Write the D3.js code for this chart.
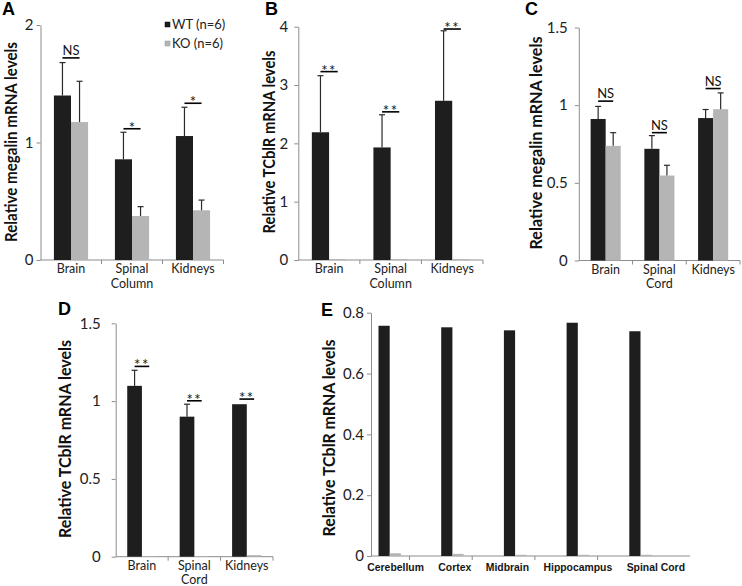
<!DOCTYPE html>
<html><head><meta charset="utf-8">
<script src="https://cdn.jsdelivr.net/npm/d3@7"></script>
<style>body{margin:0;background:#fff}</style>
</head><body>
<svg id="c" width="742" height="586"></svg>
<script>
// ---------- data ----------
const legendLabels = ["WT (n=6)", "KO (n=6)"];

const catsA = ["Brain", "Spinal Column", "Kidneys"];
const wtA = [1.40, 0.857, 1.055];
const wtSdA = [0.28, 0.23, 0.245];
const koA = [1.174, 0.374, 0.423];
const koSdA = [0.347, 0.08, 0.087];
const sigA = ["NS", "*", "*"];
const sigLevelA = [1.72, 1.117, 1.334];
const ticksA = [0, 1, 2];

const catsB = ["Brain", "Spinal Column", "Kidneys"];
const wtB = [2.19, 1.93, 2.73];
const wtSdB = [0.97, 0.56, 1.20];
const koB = [0.015, 0.015, 0.015];
const koSdB = [0, 0, 0];
const sigB = ["**", "**", "**"];
const sigLevelB = [3.23, 2.54, 3.96];
const ticksB = [0, 1, 2, 3, 4];

const catsC = ["Brain", "Spinal Cord", "Kidneys"];
const wtC = [0.911, 0.719, 0.917];
const wtSdC = [0.081, 0.085, 0.055];
const koC = [0.738, 0.547, 0.974];
const koSdC = [0.085, 0.066, 0.105];
const sigC = ["NS", "NS", "NS"];
const sigLevelC = [1.026, 0.823, 1.107];
const ticksC = [0, 0.5, 1, 1.5];

const catsD = ["Brain", "Spinal Cord", "Kidneys"];
const wtD = [1.098, 0.90, 0.98];
const wtSdD = [0.10, 0.08, 0];
const koD = [0.004, 0.004, 0.01];
const koSdD = [0, 0, 0];
const sigD = ["**", "**", "**"];
const sigLevelD = [1.223, 1.002, 1.013];
const ticksD = [0, 0.5, 1, 1.5];

const catsE = ["Cerebellum", "Cortex", "Midbrain", "Hippocampus", "Spinal Cord"];
const wtE = [0.757, 0.752, 0.742, 0.767, 0.739];
const koE = [0.009, 0.007, 0.004, 0.004, 0.004];
const ticksE = [0, 0.2, 0.4, 0.6, 0.8];

// ---------- style ----------
const WT = "#1e1e1e", KO = "#b5b5b5", AX = "#8c8c8c", ERR = "#2a2a2a";
const FONT = "Lato, 'Open Sans', sans-serif";
const svg = d3.select("#c");

function yTitle(text, cx, cy, len, size) {
  svg.append("text")
    .attr("transform", `translate(${cx},${cy}) rotate(-90)`)
    .attr("text-anchor", "middle").attr("dominant-baseline", "central")
    .attr("font-family", FONT).attr("font-weight", "bold").attr("font-size", size || 17)
    .attr("textLength", len).attr("lengthAdjust", "spacingAndGlyphs")
    .attr("fill", "#111").text(text);
}
function letter(t, x, y) {
  svg.append("text").attr("x", x).attr("y", y)
    .attr("font-family", "'Liberation Sans', Arial, sans-serif").attr("font-weight", "bold")
    .attr("font-size", 18).attr("fill", "#000").text(t);
}
function yAxis(y, x0, ticks, pad) {
  const ax = d3.axisLeft(y).tickValues(ticks).tickSize(4).tickSizeOuter(0)
    .tickPadding(pad).tickFormat(d => String(d));
  const g = svg.append("g").attr("transform", `translate(${x0},0)`).call(ax);
  g.select(".domain").attr("stroke", AX);
  g.selectAll(".tick line").attr("stroke", AX);
  g.selectAll(".tick text").attr("font-family", FONT).attr("font-size", 15).attr("fill", "#222");
}

function panel(p) {
  const y = d3.scaleLinear().domain([0, p.max]).range([p.y0, p.yTop]);
  const x = d3.scaleBand().domain(p.cats).range([p.x0, p.x1]);
  const bw = x.bandwidth() * 0.28;
  const cx = c => x(c) + x.bandwidth() / 2;

  yAxis(y, p.x0, p.ticks, p.pad);
  // x axis
  svg.append("line").attr("x1", p.x0).attr("x2", p.x1).attr("y1", p.y0).attr("y2", p.y0)
    .attr("stroke", AX);
  const bounds = p.cats.map(c => x(c)).concat([p.x1]).slice(1);
  svg.selectAll(null).data(bounds).enter().append("line")
    .attr("x1", d => d).attr("x2", d => d).attr("y1", p.y0).attr("y2", p.y0 + 4).attr("stroke", AX);

  const rows = p.cats.map((c, i) => ({c, wt: p.wt[i], ko: p.ko[i], wsd: p.wsd[i], ksd: p.ksd[i], sig: p.sig[i], lvl: p.lvl[i]}));
  // bars
  svg.selectAll(null).data(rows).enter().append("rect")
    .attr("x", d => cx(d.c) - bw).attr("width", bw)
    .attr("y", d => y(d.wt)).attr("height", d => p.y0 - y(d.wt)).attr("fill", WT);
  svg.selectAll(null).data(rows).enter().append("rect")
    .attr("x", d => cx(d.c)).attr("width", bw)
    .attr("y", d => y(d.ko)).attr("height", d => p.y0 - y(d.ko)).attr("fill", KO);
  // error bars
  const errs = [];
  rows.forEach(d => {
    if (d.wsd > 0) errs.push({xm: cx(d.c) - bw / 2, v: d.wt, sd: d.wsd});
    if (d.ksd > 0) errs.push({xm: cx(d.c) + bw / 2, v: d.ko, sd: d.ksd});
  });
  const eg = svg.selectAll(null).data(errs).enter().append("g").attr("stroke", ERR).attr("stroke-width", 1.2);
  eg.append("line").attr("x1", d => d.xm).attr("x2", d => d.xm).attr("y1", d => y(d.v)).attr("y2", d => y(d.v + d.sd));
  eg.append("line").attr("x1", d => d.xm - 3).attr("x2", d => d.xm + 3).attr("y1", d => y(d.v + d.sd)).attr("y2", d => y(d.v + d.sd));
  // significance
  svg.selectAll(null).data(rows).enter().append("line")
    .attr("x1", d => cx(d.c) - bw / 2).attr("x2", d => cx(d.c) + bw / 2)
    .attr("y1", d => y(d.lvl)).attr("y2", d => y(d.lvl))
    .attr("stroke", "#000").attr("stroke-width", 1.6);
  svg.selectAll(null).data(rows).enter().append("text")
    .attr("x", d => cx(d.c)).attr("y", d => d.sig === "NS" ? y(d.lvl) - 3 : y(d.lvl) + 4)
    .attr("text-anchor", "middle").attr("font-family", FONT)
    .attr("font-size", d => d.sig === "NS" ? 13 : 15)
    .attr("letter-spacing", d => d.sig === "**" ? 1.5 : 0)
    .attr("fill", "#111").text(d => d.sig);
  // category labels
  rows.forEach(d => {
    const parts = d.c.split(" ");
    parts.forEach((t, j) => {
      svg.append("text").attr("x", cx(d.c)).attr("y", p.y0 + 13 + j * 14.5)
        .attr("text-anchor", "middle").attr("font-family", FONT).attr("font-size", 12.5)
        .attr("fill", "#222").text(t);
    });
  });
}

// Panel A
panel({cats: catsA, wt: wtA, ko: koA, wsd: wtSdA, ksd: koSdA, sig: sigA, lvl: sigLevelA, ticks: ticksA,
  max: 2, x0: 40.5, x1: 223.5, y0: 260, yTop: 25, pad: 3});
letter("A", 2, 15);
yTitle("Relative megalin mRNA levels", 10, 142, 200);
// legend
const lg = svg.append("g");
legendLabels.forEach((t, i) => {
  lg.append("rect").attr("x", 165).attr("y", 22 + i * 19).attr("width", 5).attr("height", 5)
    .attr("fill", i === 0 ? WT : KO).attr("stroke", i === 0 ? "#000" : "#999").attr("stroke-width", 0.5);
  lg.append("text").attr("x", 172).attr("y", 29 + i * 19).attr("font-family", FONT).attr("font-size", 13)
    .attr("fill", "#222").text(t);
});

// Panel B
panel({cats: catsB, wt: wtB, ko: koB, wsd: wtSdB, ksd: koSdB, sig: sigB, lvl: sigLevelB, ticks: ticksB,
  max: 4, x0: 298.3, x1: 483, y0: 260, yTop: 26.7, pad: 6});
letter("B", 265, 15);
yTitle("Relative TCblR mRNA levels", 268, 142, 183);

// Panel C
panel({cats: catsC, wt: wtC, ko: koC, wsd: wtSdC, ksd: koSdC, sig: sigC, lvl: sigLevelC, ticks: ticksC,
  max: 1.5, x0: 578.8, x1: 740, y0: 260.5, yTop: 27.5, pad: 7});
letter("C", 525, 15);
yTitle("Relative megalin mRNA levels", 535, 143, 213);

// Panel D
panel({cats: catsD, wt: wtD, ko: koD, wsd: wtSdD, ksd: koSdD, sig: sigD, lvl: sigLevelD, ticks: ticksD,
  max: 1.5, x0: 115.7, x1: 273, y0: 556.7, yTop: 323.3, pad: 11});
letter("D", 58, 315);
yTitle("Relative TCblR mRNA levels", 64, 439, 198);

// Panel E
(function () {
  const y0 = 556, x0 = 371, x1 = 690;
  const y = d3.scaleLinear().domain([0, 0.8]).range([y0, 312.7]);
  const x = d3.scaleBand().domain(catsE).range([x0, x0 + 5 * 62.7]);
  const off = 7.5, bw = 11.2;
  yAxis(y, x0, ticksE, 3);
  svg.append("line").attr("x1", x0).attr("x2", x1).attr("y1", y0).attr("y2", y0).attr("stroke", AX);
  svg.selectAll(null).data(catsE.slice(0, 4)).enter().append("line")
    .attr("x1", c => x(c) + off + 31).attr("x2", c => x(c) + off + 31)
    .attr("y1", y0).attr("y2", y0 + 4).attr("stroke", AX);
  svg.selectAll(null).data(catsE).enter().append("rect")
    .attr("x", c => x(c) + off).attr("width", bw)
    .attr("y", (c, i) => y(wtE[i])).attr("height", (c, i) => y0 - y(wtE[i])).attr("fill", WT);
  svg.selectAll(null).data(catsE).enter().append("rect")
    .attr("x", c => x(c) + off + bw).attr("width", bw)
    .attr("y", (c, i) => y(koE[i])).attr("height", (c, i) => y0 - y(koE[i])).attr("fill", KO);
  // labels laid out in a justified row beneath the axis
  const labs = svg.selectAll(null).data(catsE).enter().append("text")
    .attr("y", 570.5).attr("text-anchor", "start")
    .attr("font-family", "'Liberation Sans', Arial, sans-serif").attr("font-weight", "bold")
    .attr("font-size", 10.4).attr("fill", "#161616").text(c => c);
  const widths = labs.nodes().map(n => n.getComputedTextLength());
  const startX = 367.3, endX = 685;
  const gap = (endX - startX - d3.sum(widths)) / (widths.length - 1);
  let cur = startX;
  labs.each(function (c, i) { d3.select(this).attr("x", cur); cur += widths[i] + gap; });
})();
letter("E", 321, 316);
yTitle("Relative TCblR mRNA levels", 328, 438, 197);
</script>
</body></html>
